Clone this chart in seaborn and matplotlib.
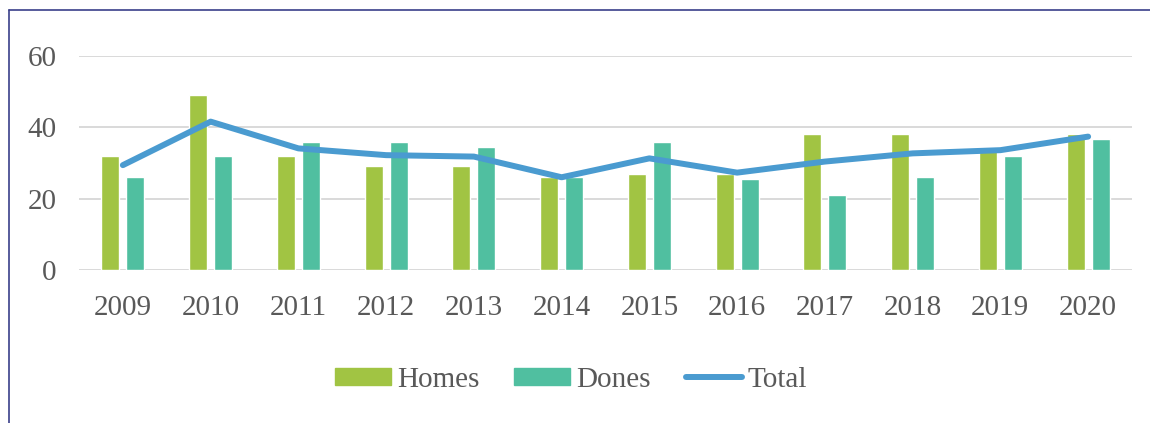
import numpy as np
import pandas as pd
import matplotlib.pyplot as plt
from matplotlib.lines import Line2D
import seaborn as sns

sns.set_theme(style="white")
plt.rcParams['font.family'] = ['Liberation Serif', 'DejaVu Serif']

# data
years = ['2009', '2010', '2011', '2012', '2013', '2014',
         '2015', '2016', '2017', '2018', '2019', '2020']
homes = [32, 49.2, 32, 29.2, 29.2, 26, 27, 27, 38, 38, 34.1, 38]
dones = [26.2, 32, 35.8, 35.8, 34.4, 26, 35.8, 25.4, 21, 26.2, 32.1, 36.6]
total = [29.4, 41.6, 34.1, 32.2, 31.8, 26, 31.3, 27.3, 30.4, 32.7, 33.6, 37.4]

c_homes = '#A1C443'
c_dones = '#50BFA0'
c_total = '#4A9BD0'
txt = '#595959'

df = pd.DataFrame({'year': years * 2,
                   'value': homes + dones,
                   'series': ['Homes'] * len(years) + ['Dones'] * len(years)})

fig = plt.figure(figsize=(11.5, 4.23), dpi=100)
ax = fig.add_axes([79 / 1150, 1 - 270 / 423, (1132 - 79) / 1150, (270 - 56) / 423])

sns.barplot(data=df, x='year', y='value', hue='series', order=years,
            palette=[c_homes, c_dones], width=0.57, gap=0.28,
            saturation=1, ax=ax, legend=False)
sns.lineplot(x=np.arange(len(years)), y=total, color=c_total, lw=4.3,
             solid_capstyle='round', ax=ax, zorder=5)

ax.set_ylim(0, 60)
ax.set_xlim(-0.5, len(years) - 0.5)
ax.set_yticks([0, 20, 40, 60])
ax.set_xlabel('')
ax.set_ylabel('')
sns.despine(ax=ax, left=True, bottom=True)
ax.yaxis.grid(True, color='#D9D9D9', lw=1.4)
ax.set_axisbelow(True)
ax.tick_params(axis='both', length=0, labelsize=21, colors=txt)
ax.tick_params(axis='y', pad=16)
ax.tick_params(axis='x', pad=18)

handles = [plt.Rectangle((0, 0), 1, 1, color=c_homes),
           plt.Rectangle((0, 0), 1, 1, color=c_dones),
           Line2D([0], [0], color=c_total, lw=4.3, solid_capstyle='round')]
fig.legend(handles, ['Homes', 'Dones', 'Total'], loc='center',
           bbox_to_anchor=(571 / 1150, 1 - 380 / 423), ncol=3, frameon=False,
           fontsize=21, labelcolor=txt, handlelength=1.92, handleheight=0.55,
           handletextpad=0.2, columnspacing=1.2)

# outer frame (left and top edges)
fig.add_artist(Line2D([9 / 1150, 9 / 1150], [0, 1 - 10.5 / 423],
                      color='#3A3F8A', lw=1.2, transform=fig.transFigure))
fig.add_artist(Line2D([9 / 1150, 1], [1 - 10.5 / 423, 1 - 10.5 / 423],
                      color='#3A3F8A', lw=1.2, transform=fig.transFigure))

fig.savefig('out.png', dpi=100)
